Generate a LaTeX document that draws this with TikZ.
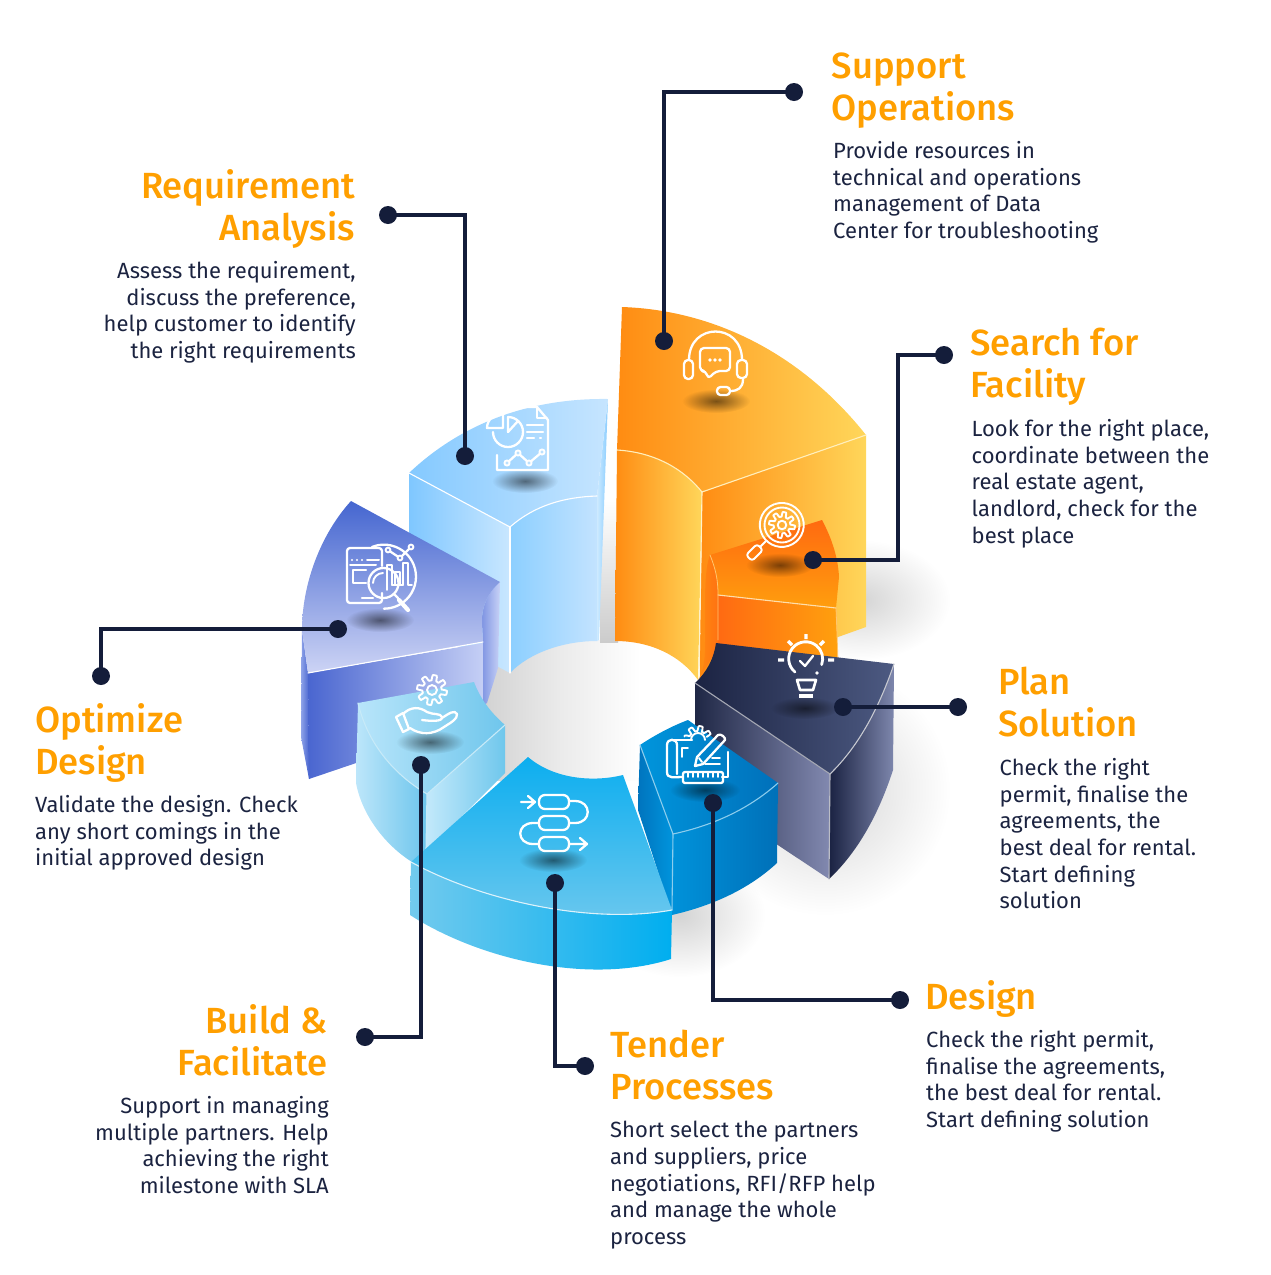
\documentclass[tikz,border=0pt]{standalone}
\usepackage{fontspec}
\setmainfont{Fira Sans}
\newfontfamily\headfont{Fira Sans Medium}
\usetikzlibrary{fadings}
\definecolor{ink}{HTML}{141D3A}
\definecolor{headc}{HTML}{FF9F00}
\definecolor{descc}{HTML}{1B2340}
\newcommand{\hexc}[1]{\definecolor{#1}{HTML}{#1}}
\hexc{7FC7FF}\hexc{C9E7FF}\hexc{8CCFFF}\hexc{C3E3FF}\hexc{CDEAFF}\hexc{88CCFF}\hexc{84C9FF}\hexc{C6E5FF}
\hexc{FF8C12}\hexc{FFD65A}\hexc{FF8A10}\hexc{FF7212}\hexc{FF6A12}\hexc{FFA00E}\hexc{FF6A10}\hexc{FF9E0E}
\hexc{1F2745}\hexc{8289B0}\hexc{1A2242}\hexc{7E87AD}\hexc{1B2342}\hexc{4D5A82}
\hexc{0074BE}\hexc{0095DD}\hexc{0092DA}\hexc{0070B8}\hexc{0095DC}\hexc{0070BA}\hexc{0090D8}
\hexc{8EA3E8}\hexc{4A66D0}\hexc{C5CFF5}\hexc{7C92E2}\hexc{C8D2F6}\hexc{4566D0}\hexc{CDD4F5}
\hexc{BDE6FA}\hexc{6CC5EC}\hexc{C3E9FB}\hexc{6FC7EC}\hexc{B8E5FA}\hexc{6FC6EC}\hexc{8FD4F2}
\hexc{72CAEE}\hexc{00AEEF}\hexc{0CAEEF}\hexc{6CC8EE}
\tikzfading[name=softfade, inner color=transparent!0, outer color=transparent!100]
\newcommand{\gearshape}[3]{%
  \draw[iconthin] plot[domain=0:360,samples=121] ({#1+#3*(0.82+0.18*max(-1,min(1,2.5*sin(8*\x))))*cos(\x)},{#2+#3*(0.82+0.18*max(-1,min(1,2.5*sin(8*\x))))*sin(\x)}) -- cycle;
  \draw[iconthin] (#1,#2) circle ({0.33*#3});}
\tikzset{
  edge/.style={draw=white,line width=1.1pt,line cap=round},
  iconline/.style={draw=white,line width=2.3pt,line cap=round,line join=round},
  iconthin/.style={draw=white,line width=1.9pt,line cap=round,line join=round},
  dotn/.style={circle,fill=ink,minimum size=18pt,inner sep=0pt},
  wire/.style={draw=ink,line width=3.8pt,line join=miter},
  ishadow/.style={fill=black,fill opacity=.52,path fading=softfade},
  gshadow/.style={fill=black,fill opacity=.17,path fading=softfade},
  heading/.style={inner sep=0pt,text=headc,font=\fontsize{36.4}{42}\headfont\selectfont,execute at begin node=\rule{0pt}{30pt}},
  desc/.style={inner sep=0pt,text=descc,font=\fontsize{22}{26.7}\selectfont,execute at begin node=\rule{0pt}{20pt}},
}
\begin{document}
\begin{tikzpicture}[x=1pt,y=-1pt]
\useasboundingbox (0,0) rectangle (1271,1275);
% ground shadows
\fill[gshadow] (860,600) ellipse (90 and 60);
\fill[gshadow] (825,790) ellipse (125 and 125);
\fill[gshadow] (680,915) ellipse (85 and 62);
\shade[left color=black!18,right color=white,middle color=black!8] (480,640) rectangle (640,780);
\shade[top color=white,bottom color=black!20] (600,500) rectangle (618,642);
% light-blue segment
\shade[left color=7FC7FF,right color=C9E7FF] (409,473) -- (510,527) -- (510,673) -- (409,620) -- cycle;
\shade[left color=8CCFFF,right color=C3E3FF] (510,527) .. controls (535,505) and (565,497) .. (597,496) -- (597,641) .. controls (565,641) and (530,652) .. (510,673) -- cycle;
\shade[left color=CDEAFF,right color=88CCFF] (608,399) -- (597,496) -- (597,641) -- (599,640) -- cycle;
\shade[left color=84C9FF,right color=C6E5FF] (409,473) .. controls (465,420) and (535,398) .. (608,399) -- (597,496) .. controls (565,497) and (535,505) .. (510,527) -- cycle;
\draw[edge] (409,473) -- (510,527) .. controls (535,505) and (565,497) .. (597,496);
\draw[edge] (510,527) -- (510,673);
% big orange segment
\shade[left color=FF8C12,right color=FFD65A] (702,492) -- (866,435) -- (866,627) -- (838,637) -- (700,680) -- cycle;
\shade[left color=FF8C12,right color=FFD65A] (617,450) .. controls (650,452) and (680,465) .. (702,492) -- (698,680) .. controls (680,655) and (650,641) .. (615,641) -- cycle;
\shade[left color=FF8C12,right color=FFD65A] (622,307) .. controls (712,310) and (800,352) .. (866,435) -- (702,492) .. controls (680,465) and (650,452) .. (617,450) -- cycle;
\draw[edge,draw=white!60!FFD65A] (866,435) -- (702,492) .. controls (680,465) and (650,452) .. (617,450);
\draw[edge,draw=white!70!FFD65A] (702,492) -- (699,678);
% small orange segment
\shade[left color=FF8A10,right color=FF7212] (710,555) .. controls (716,570) and (718,580) .. (718,595) -- (718,648) -- (698,680) .. controls (704,670) and (705,660) .. (705,640) .. controls (705,600) and (704,570) .. (710,555) -- cycle;
\shade[left color=FF6A12,right color=FFA00E] (718,595) -- (836,608) -- (838,665) -- (718,650) -- cycle;
\shade[top color=FF6A10,bottom color=FF9E0E] (710,555) -- (822,520) .. controls (830,535) and (838,555) .. (839,577) -- (836,608) -- (718,595) .. controls (718,580) and (716,570) .. (710,555) -- cycle;
\draw[edge,draw=white!65!FFA00E] (718,595) -- (836,608);
\draw[edge,draw=white!40!FFA00E,line width=.8pt] (710,555) .. controls (716,570) and (718,580) .. (718,595) -- (718,640);
\draw[edge,draw=white!40!FFA00E,line width=.8pt] (836,608) -- (838,660);
% dark segment
\shade[left color=1F2745,right color=8289B0] (695,683) -- (830,774) -- (829,879) -- (695,790) -- cycle;
\shade[left color=1A2242,right color=7E87AD] (830,774) .. controls (860,745) and (880,705) .. (894,664) -- (893,770) .. controls (880,810) and (860,850) .. (829,879) -- cycle;
\shade[left color=1B2342,right color=4D5A82] (716,643) -- (894,664) .. controls (880,705) and (860,745) .. (830,774) -- (695,683) .. controls (707,672) and (714,658) .. (716,643) -- cycle;
\draw[edge,draw=white!75!1B2342] (894,664) .. controls (880,705) and (860,745) .. (830,774);
\draw[edge,draw=white!60!1B2342] (695,683) -- (830,774);
\draw[edge,draw=white!70!1B2342] (830,774) -- (829,879);
% design blue segment
\shade[left color=0074BE,right color=0095DD] (640,745) -- (673,834) -- (672,915) -- (638,810) -- cycle;
\shade[left color=0092DA,right color=0070B8] (673,834) .. controls (715,825) and (750,808) .. (778,783) -- (777,863) .. controls (750,888) and (715,905) .. (672,915) -- cycle;
\shade[left color=0095DC,right color=0070BA] (640,745) .. controls (655,735) and (672,726) .. (688,720) -- (778,783) .. controls (750,808) and (715,825) .. (673,834) -- cycle;
\draw[edge,draw=white!55!0090D8] (640,745) -- (673,834) .. controls (715,825) and (750,808) .. (778,783);
\draw[edge,draw=white!55!0090D8] (673,834) -- (672,910);
% purple segment
\shade[left color=8EA3E8,right color=4A66D0] (302,630) -- (308,673) -- (309,779) -- (301,737) -- cycle;
\shade[left color=4A66D0,right color=C5CFF5] (308,673) -- (483,643) -- (483,720) -- (309,779) -- cycle;
\shade[left color=7C92E2,right color=C8D2F6] (500,582) .. controls (488,592) and (481,608) .. (482,623) -- (483,643) -- (483,705) -- (487,703) -- (498,668) -- cycle;
\shade[shading angle=-25,top color=4566D0,bottom color=CDD4F5] (351,501) -- (500,582) .. controls (488,592) and (481,608) .. (482,623) -- (483,642) -- (308,673) -- (302,630) .. controls (302,585) and (320,535) .. (351,501) -- cycle;
\draw[edge] (308,673) -- (483,642);
% light build segment
\shade[left color=BDE6FA,right color=6CC5EC] (358,703) .. controls (368,745) and (395,775) .. (427,794) -- (427,855) -- (412,862) .. controls (385,845) and (362,815) .. (356,783) -- cycle;
\shade[left color=C3E9FB,right color=6FC7EC] (427,794) -- (505,725) -- (505,773) -- (426,852) -- cycle;
\shade[left color=B8E5FA,right color=6FC6EC] (358,703) -- (474,682) .. controls (480,698) and (490,712) .. (505,725) -- (427,794) .. controls (395,775) and (368,745) .. (358,703) -- cycle;
\draw[edge,draw=white!50!8FD4F2] (358,703) .. controls (368,745) and (395,775) .. (427,794) -- (505,725);
\draw[edge,draw=white!50!8FD4F2] (427,794) -- (426,850);
% tender segment
\shade[left color=72CAEE,right color=00AEEF] (411,862) .. controls (480,900) and (590,925) .. (672,910) -- (671,959) .. controls (590,985) and (480,960) .. (410,915) -- cycle;
\shade[top color=0CAEEF,bottom color=6CC8EE] (411,862) -- (528,757) .. controls (555,780) and (595,782) .. (623,775) -- (672,910) .. controls (590,925) and (480,900) .. (411,862) -- cycle;
\draw[edge,draw=white!75!72CAEE] (411,862) .. controls (480,900) and (590,925) .. (672,910);
% icon shadows
\fill[ishadow] (716,401) ellipse (34 and 12);
\fill[ishadow] (780,565) ellipse (34 and 12);
\fill[ishadow] (805,708) ellipse (34 and 11);
\fill[ishadow] (705,790) ellipse (35 and 12);
\fill[ishadow] (553,860) ellipse (34 and 12);
\fill[ishadow] (430,742) ellipse (34 and 12);
\fill[ishadow] (380,620) ellipse (34 and 12);
\fill[ishadow] (525,481) ellipse (33 and 12);
% headset icon
\draw[iconline] (689,360) .. controls (689,322) and (742,322) .. (742,360);
\draw[iconline,rounded corners=4pt] (684,360) rectangle (693,379);
\draw[iconline,rounded corners=4pt] (737,360) rectangle (747,378);
\draw[iconline,rounded corners=4pt] (700,348) -- (730,348) -- (730,371) -- (716,371) -- (708,379) -- (706,371) -- (700,371) -- cycle;
\fill[white] (710,360) circle (1.8) (715,360) circle (1.8) (720,360) circle (1.8);
\draw[iconline] (743,379) .. controls (743,388) and (738,391) .. (730,391);
\draw[iconline,rounded corners=3.5pt] (717,387) rectangle (730,395);
% search icon
\draw[iconthin] (775,504) arc (-108:250:22);
\draw[iconthin] (782,525) circle (17.5);
\gearshape{782}{525}{13}
\draw[iconthin] (766,541) -- (760,547);
\draw[iconthin,rounded corners=3pt] (757,544) -- (763,550) -- (752,561) -- (746,555) -- cycle;
% bulb icon
\draw[iconline,line width=2.8pt] (795,672) arc (129:380:17);
\fill[white] (817,673) circle (1.9);
\draw[iconline] (800,661) -- (805,666) -- (813,656);
\draw[iconline,line width=2.6pt] (797,680) -- (816,680) -- (813,690) -- (800,690) -- cycle;
\draw[draw=white,line width=3.4pt] (799,696) -- (813,696);
\draw[draw=white,line width=3.4pt] (806,634) -- (806,639) (788,641) -- (792,645) (824,641) -- (820,645) (778,660) -- (784,660) (828,660) -- (834,660);
% blueprint icon
\draw[iconline] (677,774) -- (677,745) .. controls (677,738) and (667,738) .. (667,745) -- (667,772) .. controls (667,779) and (674,777) .. (683,777);
\draw[iconline] (672,740) -- (692,740) (728,752) -- (728,777) -- (722,777);
\draw[iconthin] (688,748) -- (682,748) -- (682,757);
\draw[iconthin] (712,758) -- (720,758) (705,764) -- (720,764);
\draw[iconline,rounded corners=2pt] (683,772) rectangle (723,783);
\draw[iconthin] (688,772) -- (688,777) (693,772) -- (693,777) (698,772) -- (698,777) (703,772) -- (703,777) (708,772) -- (708,777) (713,772) -- (713,777) (718,772) -- (718,777);
\draw[iconthin] (691,740) arc (180:360:7);
\draw[iconthin] plot[domain=195:340,samples=50] ({698+14*(0.82+0.18*max(-1,min(1,2.5*sin(8*\x))))*cos(\x)},{740+14*(0.82+0.18*max(-1,min(1,2.5*sin(8*\x))))*sin(\x)});
\draw[iconline] (695,766) -- (697,757) -- (718,735) .. controls (721,733) and (726,738) .. (725,740) -- (703,764) -- cycle;
\draw[iconthin] (699,758) -- (702,762);
% process icon
\draw[iconline,rounded corners=6pt] (539,795) rectangle (569,809);
\draw[iconline,rounded corners=6pt] (539,816) rectangle (569,830);
\draw[iconline,rounded corners=6pt] (539,837) rectangle (569,851);
\draw[iconline] (569,801) -- (575,801) .. controls (592,801) and (592,823) .. (575,823) -- (569,823);
\draw[iconline] (539,823) -- (533,823) .. controls (516,823) and (516,844) .. (533,844) -- (539,844);
\draw[iconline] (521,802) -- (534,802) (528,796) -- (535,802) -- (528,808);
\draw[iconline] (569,844) -- (587,844) (580,838) -- (587,844) -- (580,850);
% hand and gear icon
\gearshape{432}{690}{15}
\draw[iconline] (396,717) -- (403,713) -- (409,729) -- (403,732) -- cycle;
\draw[iconline] (403,714) .. controls (411,706) and (420,707) .. (427,712) .. controls (433,715) and (441,713) .. (442,717) .. controls (443,722) and (430,721) .. (422,720);
\draw[iconline] (410,728) .. controls (420,735) and (433,735) .. (444,727) .. controls (450,723) and (458,719) .. (457,714) .. controls (455,709) and (448,714) .. (442,718);
% report icon
\draw[iconline] (513,407) -- (537,407) -- (548,420) -- (548,470) -- (497,470) -- (497,455);
\draw[iconthin] (537,408) -- (537,418) -- (547,418);
\draw[iconline] (508,417) arc (-90:180:15);
\draw[iconline] (508,432) -- (508,417) (508,432) -- (518,421);
\draw[iconline] (503,413) -- (503,428) -- (487,428) .. controls (487,420) and (494,413) .. (503,413) -- cycle;
\draw[iconline] (527,425) -- (543,425) (527,432) -- (543,432) (527,438) -- (534,438) (540,438) -- (541,438);
\draw[iconline] (507,463) -- (518,453) -- (529,463) -- (542,452);
\draw[iconthin,fill=white!45!84C9FF] (507,463) circle (2.6) (518,453) circle (2.6) (529,463) circle (2.6) (542,452) circle (2.6);
% analysis icon
\draw[iconline,rounded corners=3pt] (382,566) -- (382,548) -- (347,548) -- (347,603) -- (382,603) -- (382,593);
\fill[white] (352,560) circle (1.1) (357,560) circle (1.1) (362,560) circle (1.1);
\draw[iconline,line width=2pt] (367,560) -- (379,560) (350,565) -- (376,565);
\draw[iconline] (366,570) -- (353,570) -- (353,583) -- (366,583);
\draw[iconline] (362,598) -- (373,598);
\draw[iconline] (372,547) arc (-112:90:32);
\draw[iconline,fill=none] (383.5,583) circle (15);
\draw[iconthin] (373,583) arc (180:270:10);
\draw[iconline] (394,594) -- (398,598);
\draw[iconline,line width=4.2pt] (399,600) -- (408,610);
\draw[iconthin] (387,590) -- (387,565) -- (392,565) -- (392,585);
\draw[iconthin] (395,585) -- (395,572) -- (400,572) -- (400,585);
\draw[iconthin] (403,585) -- (403,563) -- (408,563) -- (408,585) -- (412,585);
\draw[iconthin] (392,585) -- (403,585);
\draw[iconline] (388,550) -- (400,558) -- (411,547);
\draw[iconthin,fill=7C92E2] (388,550) circle (2.4) (400,558) circle (2.4) (411,547) circle (2.4);
% connectors
\node[dotn] (reqA) at (388,215) {}; \node[dotn] (reqB) at (465,456) {};
\node[dotn] (supA) at (794,92) {}; \node[dotn] (supB) at (664,341) {};
\node[dotn] (seaA) at (944,355) {}; \node[dotn] (seaB) at (813,560) {};
\node[dotn] (plaA) at (958,707) {}; \node[dotn] (plaB) at (843,707) {};
\node[dotn] (desA) at (900,1000) {}; \node[dotn] (desB) at (713,803) {};
\node[dotn] (tenA) at (585,1066) {}; \node[dotn] (tenB) at (555,883) {};
\node[dotn] (bldA) at (365,1037) {}; \node[dotn] (bldB) at (421,765) {};
\node[dotn] (optA) at (101,676) {}; \node[dotn] (optB) at (338,629) {};
\coordinate (seaM) at (898,355);
\draw[wire] (reqA.center) -| (reqB.center);
\draw[wire] (supA.center) -| (supB.center);
\draw[wire] (seaA.center) -- (seaM) |- (seaB.center);
\draw[wire] (plaA.center) -- (plaB.center);
\draw[wire] (desA.center) -| (desB.center);
\draw[wire] (tenA.center) -| (tenB.center);
\draw[wire] (bldA.center) -| (bldB.center);
\draw[wire] (optA.center) |- (optB.center);
% text
\node[heading,align=left,anchor=north west] (supH) at (831.5,53) {Support\\Operations};
\node[desc,align=left,anchor=north west] (supT) at (833,141) {Provide resources in\\technical and operations\\management of Data\\Center for troubleshooting};
\node[heading,align=left,anchor=north west] (seaH) at (970,328) {Search for\\Facility};
\node[desc,align=left,anchor=north west] (seaT) at (971.5,419) {Look for the right place,\\coordinate between the\\real estate agent,\\landlord, check for the\\best place};
\node[heading,align=left,anchor=north west] (plaH) at (998,667) {Plan\\Solution};
\node[desc,align=left,anchor=north west] (plaT) at (999.5,758) {Check the right\\permit, finalise the\\agreements, the\\best deal for rental.\\Start defining\\solution};
\node[heading,align=left,anchor=north west] (desH) at (925,979) {Design};
\node[desc,align=left,anchor=north west] (desT) at (926,1030) {Check the right permit,\\finalise the agreements,\\the best deal for rental.\\Start defining solution};
\node[heading,align=left,anchor=north west] (tenH) at (610,1030) {Tender\\Processes};
\node[desc,align=left,anchor=north west] (tenT) at (610,1121) {Short select the partners\\and suppliers, price\\negotiations, RFI/RFP help\\and manage the whole\\process};
\node[heading,align=right,anchor=north east] (bldH) at (328,1004) {Build \&\\Facilitate};
\node[desc,align=right,anchor=north east] (bldT) at (329,1096) {Support in managing\\multiple partners. Help\\achieving the right\\milestone with SLA};
\node[heading,align=left,anchor=north west] (optH) at (35,703) {Optimize\\Design};
\node[desc,align=left,anchor=north west] (optT) at (35,795) {Validate the design. Check\\any short comings in the\\initial approved design};
\node[heading,align=right,anchor=north east] (reqH) at (355,169) {Requirement\\Analysis};
\node[desc,align=right,anchor=north east] (reqT) at (356,261) {Assess the requirement,\\discuss the preference,\\help customer to identify\\the right requirements};
\end{tikzpicture}
\end{document}
